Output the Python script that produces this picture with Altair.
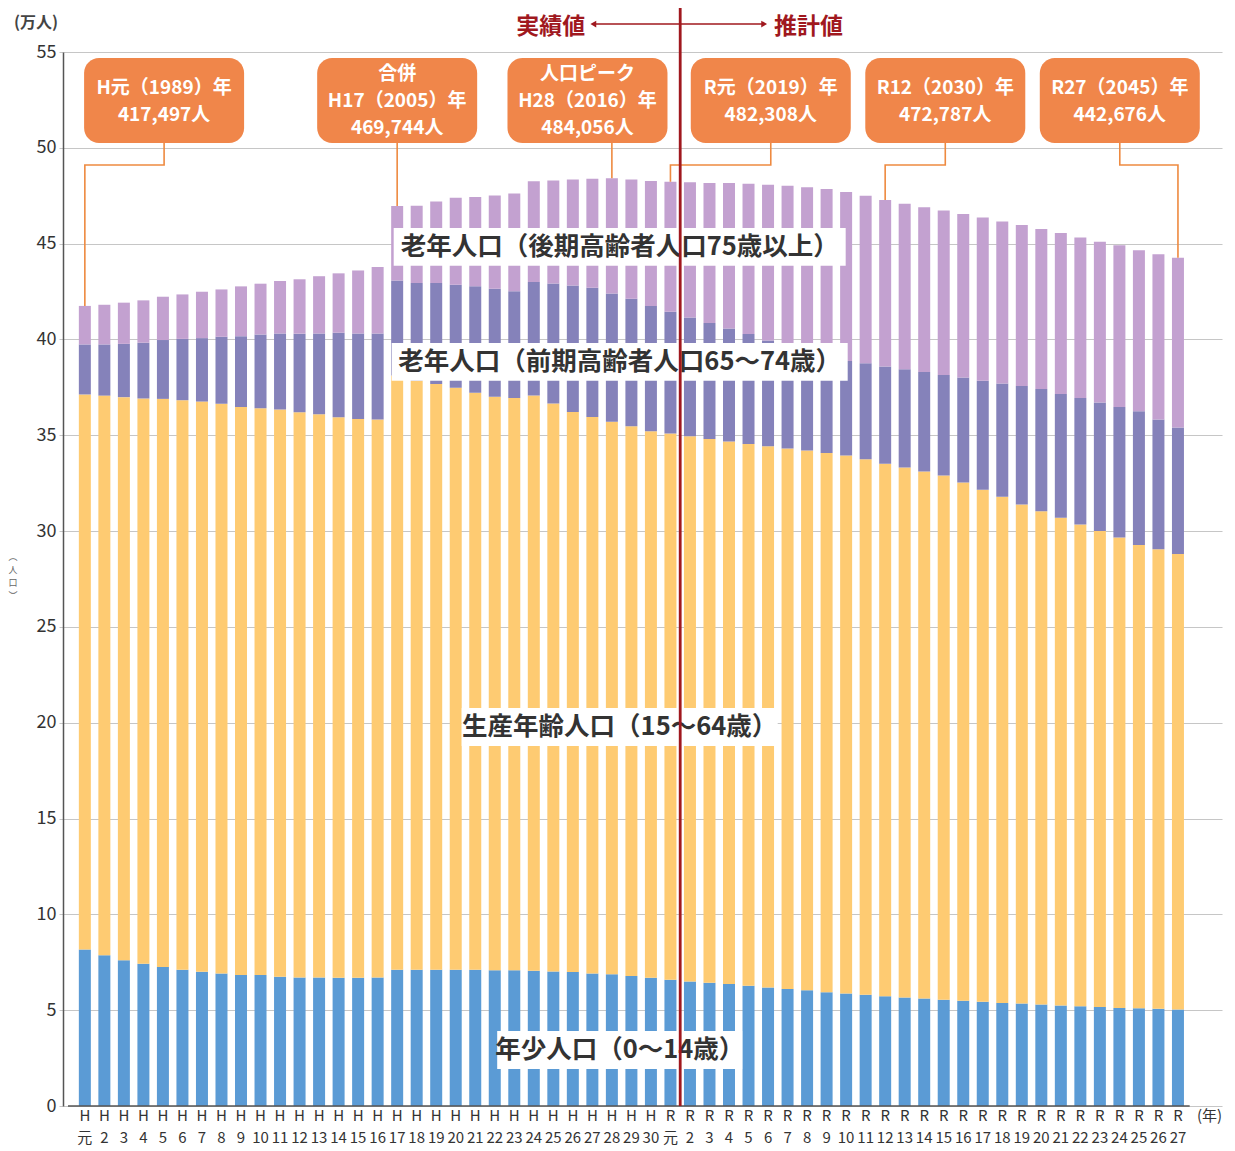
import altair as alt
import pandas as pd

FONT = "Noto Sans CJK JP"

# ---------------- data (万人) ----------------
labels = ["H元", "H2", "H3", "H4", "H5", "H6", "H7", "H8", "H9", "H10",
          "H11", "H12", "H13", "H14", "H15", "H16", "H17", "H18", "H19", "H20",
          "H21", "H22", "H23", "H24", "H25", "H26", "H27", "H28", "H29", "H30",
          "R元", "R2", "R3", "R4", "R5", "R6", "R7", "R8", "R9", "R10",
          "R11", "R12", "R13", "R14", "R15", "R16", "R17", "R18", "R19", "R20",
          "R21", "R22", "R23", "R24", "R25", "R26", "R27"]

young = [8.17, 7.87, 7.61, 7.42, 7.25, 7.11, 7.00, 6.92, 6.83, 6.83,
         6.74, 6.71, 6.71, 6.69, 6.69, 6.71, 7.11, 7.11, 7.11, 7.11,
         7.11, 7.08, 7.08, 7.06, 7.02, 6.99, 6.92, 6.87, 6.78, 6.69,
         6.59, 6.50, 6.43, 6.36, 6.27, 6.18, 6.11, 6.04, 5.94, 5.87,
         5.80, 5.73, 5.66, 5.61, 5.54, 5.49, 5.44, 5.38, 5.35, 5.30,
         5.24, 5.21, 5.16, 5.12, 5.10, 5.07, 5.03]

working = [28.96, 29.20, 29.38, 29.50, 29.65, 29.72, 29.76, 29.72, 29.65, 29.58,
           29.60, 29.49, 29.39, 29.25, 29.16, 29.11, 31.01, 30.74, 30.56, 30.37,
           30.11, 29.93, 29.87, 30.01, 29.64, 29.23, 29.04, 28.83, 28.69, 28.52,
           28.50, 28.45, 28.38, 28.31, 28.28, 28.25, 28.20, 28.17, 28.13, 28.08,
           27.95, 27.79, 27.66, 27.50, 27.36, 27.05, 26.72, 26.41, 26.04, 25.73,
           25.45, 25.13, 24.84, 24.55, 24.18, 23.98, 23.78]

early_old = [2.61, 2.67, 2.78, 2.91, 3.07, 3.20, 3.31, 3.50, 3.69, 3.85,
             3.97, 4.10, 4.21, 4.41, 4.46, 4.49, 4.95, 5.10, 5.28, 5.38,
             5.55, 5.63, 5.57, 5.93, 6.26, 6.60, 6.74, 6.70, 6.66, 6.54,
             6.36, 6.19, 6.05, 5.90, 5.73, 5.52, 5.31, 5.11, 5.00, 4.93,
             5.01, 5.07, 5.13, 5.19, 5.25, 5.48, 5.68, 5.91, 6.18, 6.38,
             6.47, 6.60, 6.71, 6.80, 6.98, 6.77, 6.60]

late_old = [2.01, 2.07, 2.15, 2.21, 2.26, 2.32, 2.42, 2.47, 2.60, 2.65,
            2.74, 2.84, 2.99, 3.10, 3.29, 3.47, 3.90, 4.03, 4.25, 4.53,
            4.67, 4.87, 5.09, 5.25, 5.38, 5.53, 5.69, 6.01, 6.22, 6.52,
            6.78, 7.06, 7.31, 7.59, 7.84, 8.12, 8.40, 8.62, 8.78, 8.82,
            8.74, 8.69, 8.63, 8.60, 8.58, 8.53, 8.53, 8.46, 8.40, 8.35,
            8.39, 8.38, 8.39, 8.45, 8.40, 8.62, 8.86]

groups = ["年少人口", "生産年齢人口", "前期高齢者人口", "後期高齢者人口"]
group_colors = ["#5b9bd5", "#fecb72", "#8582ba", "#c3a1d0"]

group_labels = ["老年人口（後期高齢者人口75歳以上）", "老年人口（前期高齢者人口65～74歳）",
                "生産年齢人口（15～64歳）", "年少人口（0～14歳）"]

ann_anchor = ["H元", "H17", "H28", "R元", "R12", "R27"]
ann_lines = [["H元（1989）年", "417,497人"],
             ["合併", "H17（2005）年", "469,744人"],
             ["人口ピーク", "H28（2016）年", "484,056人"],
             ["R元（2019）年", "482,308人"],
             ["R12（2030）年", "472,787人"],
             ["R27（2045）年", "442,676人"]]

# ---------------- layout (not data) ----------------
W, H = 1159, 1054
PX = H / 55.0                                      # pixels per 万人 on the y axis
X_MIN, X_MAX = -0.863, 58.0
ann_center = [4.06, 16.0, 25.75, 35.14, 44.08, 53.02]   # box centres on the index axis
ann_elbow = [True, False, False, True, True, True]
BOX_TOP, BOX_BOT, ELBOW_Y = 54.69, 50.25, 49.10
BOX_MID = 52.42
LINE_H = 27
lab_x = 27.4
lab_y = [44.83, 38.83, 19.78, 2.92]
lab_w = [452, 456, 316, 245]
LAB_HALF = 0.99

series = [young, working, early_old, late_old]
n = len(labels)
idx_of = {l: i for i, l in enumerate(labels)}
totals = [sum(s[i] for s in series) for i in range(n)]

rows = []
for i, lab in enumerate(labels):
    for g, (name, vals) in enumerate(zip(groups, series)):
        rows.append({"idx": i, "label": lab, "group": name, "ord": g, "value": vals[i]})
bars_df = pd.DataFrame(rows)

xs = alt.Scale(domain=[X_MIN, X_MAX], nice=False, zero=False)
ys = alt.Scale(domain=[0, 55], nice=False, zero=True)

bars = alt.Chart(bars_df).mark_bar(size=12).encode(
    x=alt.X("idx:Q", scale=xs, axis=alt.Axis(
        values=list(range(n)), labels=False, grid=False, ticks=False, domain=False, title=None)),
    y=alt.Y("value:Q", stack="zero", scale=ys, axis=alt.Axis(
        values=list(range(0, 56, 5)), format="d", grid=True, gridColor="#c6c6c6",
        gridWidth=1.2, tickSize=4, tickColor="#c6c6c6", domainColor="#555555",
        domainWidth=1.5, labelFont=FONT, labelFontSize=18, labelColor="#333333",
        labelPadding=3, title=None)),
    color=alt.Color("group:N", scale=alt.Scale(domain=groups, range=group_colors), legend=None),
    order=alt.Order("ord:Q", sort="ascending"),
)

# x axis baseline (ends just after the last bar, as in the original)
base = alt.Chart(pd.DataFrame({"x0": [X_MIN], "x1": [n - 0.4], "y": [0]})).mark_rule(
    color="#555555", strokeWidth=1.6).encode(
    x=alt.X("x0:Q", scale=xs), x2="x1:Q", y=alt.Y("y:Q", scale=ys))

# two-row x tick labels
tick_df = pd.DataFrame({"idx": list(range(n)), "era": [l[0] for l in labels],
                        "yr": [l[1:] for l in labels]})
tick_top = alt.Chart(tick_df).mark_text(font=FONT, fontSize=15, color="#333333",
                                        baseline="middle").encode(
    x=alt.X("idx:Q", scale=xs), y=alt.value(H + 10), text="era:N")
tick_bot = alt.Chart(tick_df).mark_text(font=FONT, fontSize=15, color="#333333",
                                        baseline="middle").encode(
    x=alt.X("idx:Q", scale=xs), y=alt.value(H + 32), text="yr:N")

# unit captions
unit_x = alt.Chart(pd.DataFrame({"t": ["(年)"]})).mark_text(
    font=FONT, fontSize=15, color="#333333", baseline="middle", align="left").encode(
    x=alt.value(W - 25), y=alt.value(H + 10), text="t:N")
unit_y = alt.Chart(pd.DataFrame({"t": ["(万人)"]})).mark_text(
    font=FONT, fontSize=16, fontWeight="bold", color="#444444", baseline="middle").encode(
    x=alt.value(-27), y=alt.value(-29), text="t:N")
side_title = alt.Chart(pd.DataFrame({"t": ["︵\n人\n口\n︶"]})).mark_text(
    font=FONT, fontSize=9, color="#666666", lineBreak="\n", lineHeight=13,
    baseline="middle").encode(x=alt.value(-50), y=alt.value(505), text="t:N")

# category labels on white boxes
lab_df = pd.DataFrame({"x": [lab_x] * 4, "y": lab_y, "y0": [v - LAB_HALF for v in lab_y],
                       "y1": [v + LAB_HALF for v in lab_y], "w": lab_w, "text": group_labels})
lab_box = alt.Chart(lab_df).mark_bar(color="white").encode(
    x=alt.X("x:Q", scale=xs), y=alt.Y("y0:Q", scale=ys), y2="y1:Q",
    size=alt.Size("w:Q", scale=None, legend=None))
lab_text = alt.Chart(lab_df).mark_text(font=FONT, fontSize=25.5, fontWeight="bold",
                                       color="#333333", baseline="middle").encode(
    x=alt.X("x:Q", scale=xs), y=alt.Y("y:Q", scale=ys), text="text:N")

# annotation boxes
ann_df = pd.DataFrame({"x": ann_center, "y0": [BOX_BOT] * 6, "y1": [BOX_TOP] * 6})
ann_box = alt.Chart(ann_df).mark_bar(size=160, color="#f0864a", cornerRadius=15).encode(
    x=alt.X("x:Q", scale=xs), y=alt.Y("y0:Q", scale=ys), y2="y1:Q")

txt_rows = []
for c, lines in zip(ann_center, ann_lines):
    m = len(lines)
    for j, t in enumerate(lines):
        txt_rows.append({"x": c, "y": BOX_MID + ((m - 1) / 2 - j) * LINE_H / PX, "text": t})
ann_txt = alt.Chart(pd.DataFrame(txt_rows)).mark_text(
    font=FONT, fontSize=19, fontWeight="bold", color="white", baseline="middle").encode(
    x=alt.X("x:Q", scale=xs), y=alt.Y("y:Q", scale=ys), text="text:N")

lead_rows = []
for k, (anc, c, elbow) in enumerate(zip(ann_anchor, ann_center, ann_elbow)):
    ai = idx_of[anc]
    if elbow:
        pts = [(c, BOX_BOT), (c, ELBOW_Y), (ai, ELBOW_Y), (ai, totals[ai])]
    else:
        pts = [(ai, BOX_BOT), (ai, totals[ai])]
    for s, (px, py) in enumerate(pts):
        lead_rows.append({"ann": k, "seq": s, "x": px, "y": py})
lead_df = pd.DataFrame(lead_rows)
leaders = alt.Chart(lead_df).mark_line(color="#ee8a40", strokeWidth=1.6).encode(
    x=alt.X("x:Q", scale=xs), y=alt.Y("y:Q", scale=ys),
    detail="ann:N", order="seq:Q")

# divider between actual and projected values
div_x = idx_of["R元"] + 0.5
RED = "#a0181e"
divider = alt.Chart(pd.DataFrame({"x": [div_x], "y0": [0], "y1": [57.3]})).mark_rule(
    color=RED, strokeWidth=2.8).encode(
    x=alt.X("x:Q", scale=xs), y=alt.Y("y0:Q", scale=ys), y2="y1:Q")
ARROW_Y = 56.46
arrow = alt.Chart(pd.DataFrame({"x0": [div_x - 4.45], "x1": [div_x + 4.3], "y": [ARROW_Y]})).mark_rule(
    color=RED, strokeWidth=1.5).encode(
    x=alt.X("x0:Q", scale=xs), x2="x1:Q", y=alt.Y("y:Q", scale=ys))
heads = alt.Chart(pd.DataFrame({"x": [div_x - 4.45, div_x + 4.3], "y": [ARROW_Y] * 2,
                                "shape": ["triangle-left", "triangle-right"]})).mark_point(
    filled=True, size=45, color=RED, opacity=1).encode(
    x=alt.X("x:Q", scale=xs), y=alt.Y("y:Q", scale=ys),
    shape=alt.Shape("shape:N", scale=None, legend=None))
arrow_txt = alt.Chart(pd.DataFrame({"x": [div_x - 6.63, div_x + 6.57], "y": [ARROW_Y - 0.15] * 2,
                                    "text": ["実績値", "推計値"]})).mark_text(
    font=FONT, fontSize=23, fontWeight="bold", color=RED, baseline="middle").encode(
    x=alt.X("x:Q", scale=xs), y=alt.Y("y:Q", scale=ys), text="text:N")

chart = alt.layer(bars, base, tick_top, tick_bot, unit_x, unit_y, side_title, lab_box, lab_text,
                  leaders, ann_box, ann_txt, divider, arrow, heads, arrow_txt).properties(
    width=W, height=H,
    padding={"left": 55, "top": 44, "right": 5, "bottom": 45},
    autosize=alt.AutoSizeParams(type="none"),
    background="white",
).configure_view(stroke=None)

chart.save("out.html", embed_options={"renderer": "svg", "actions": False})
